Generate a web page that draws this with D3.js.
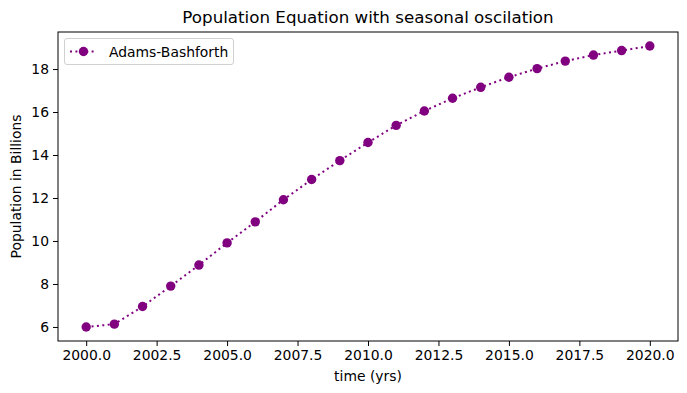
<!DOCTYPE html>
<meta charset="utf-8">
<html>
<head>
    <title>Population Equation</title>
    <style>
        body { margin: 0; background: #fff; }
        svg text { font-family: "DejaVu Sans", sans-serif; fill: #000; }
    </style>
</head>
<body>
    <script src="https://cdnjs.cloudflare.com/ajax/libs/d3/7.8.5/d3.min.js"></script>
    <script>
        // data
        var years = [2000, 2001, 2002, 2003, 2004, 2005, 2006, 2007, 2008, 2009, 2010,
                     2011, 2012, 2013, 2014, 2015, 2016, 2017, 2018, 2019, 2020];
        var population = [6.0, 6.13, 6.95, 7.9, 8.88, 9.91, 10.89, 11.92, 12.86, 13.74, 14.58,
                          15.38, 16.05, 16.64, 17.15, 17.62, 18.02, 18.37, 18.65, 18.86, 19.07];
        var xTicks = [2000, 2002.5, 2005, 2007.5, 2010, 2012.5, 2015, 2017.5, 2020];
        var yTicks = [6, 8, 10, 12, 14, 16, 18];
        var seriesName = "Adams-Bashforth";

        var W = 687, H = 393;
        var plotL = 58, plotR = 678, plotT = 32, plotB = 341;
        var color = "purple";
        var tickFont = 13.9;

        var svg = d3.select("body").append("svg")
            .attr("width", W)
            .attr("height", H);

        // matplotlib style 5% margins
        var xmin = d3.min(years), xmax = d3.max(years);
        var ymin = d3.min(population), ymax = d3.max(population);
        var xm = (xmax - xmin) * 0.05, ym = (ymax - ymin) * 0.05;

        var x = d3.scaleLinear().domain([xmin - xm, xmax + xm]).range([plotL, plotR]);
        var y = d3.scaleLinear().domain([ymin - ym, ymax + ym]).range([plotB, plotT]);

        // axes
        var xAxis = svg.append("g")
            .attr("transform", "translate(0," + plotB + ")")
            .call(d3.axisBottom(x).tickValues(xTicks).tickFormat(d3.format(".1f"))
                .tickSizeInner(5).tickSizeOuter(0).tickPadding(4));
        var yAxis = svg.append("g")
            .attr("transform", "translate(" + plotL + ",0)")
            .call(d3.axisLeft(y).tickValues(yTicks).tickFormat(d3.format("d"))
                .tickSizeInner(5).tickSizeOuter(0).tickPadding(4));
        [xAxis, yAxis].forEach(function (g) {
            g.select(".domain").remove();
            g.selectAll("line").attr("stroke", "#000").attr("stroke-width", 1);
            g.selectAll("text").attr("font-size", tickFont)
                .attr("font-family", "DejaVu Sans, sans-serif").attr("fill", "#000");
        });

        // frame
        svg.append("rect")
            .attr("x", plotL).attr("y", plotT)
            .attr("width", plotR - plotL).attr("height", plotB - plotT)
            .attr("fill", "none").attr("stroke", "#000").attr("stroke-width", 1);

        // line
        var line = d3.line()
            .x(function (d, i) { return x(years[i]); })
            .y(function (d) { return y(d); });
        svg.append("path")
            .datum(population)
            .attr("d", line)
            .attr("fill", "none")
            .attr("stroke", color)
            .attr("stroke-width", 2)
            .attr("stroke-dasharray", "2,3.4");

        svg.selectAll("circle.pt")
            .data(population)
            .enter()
            .append("circle")
            .attr("class", "pt")
            .attr("cx", function (d, i) { return x(years[i]); })
            .attr("cy", function (d) { return y(d); })
            .attr("r", 4.7)
            .attr("fill", color);

        // title and labels
        svg.append("text")
            .attr("x", (plotL + plotR) / 2).attr("y", 23)
            .attr("text-anchor", "middle")
            .attr("font-size", 16.7)
            .text("Population Equation with seasonal oscilation");
        svg.append("text")
            .attr("x", (plotL + plotR) / 2).attr("y", 381)
            .attr("text-anchor", "middle")
            .attr("font-size", tickFont)
            .text("time (yrs)");
        svg.append("text")
            .attr("transform", "translate(21," + ((plotT + plotB) / 2) + ") rotate(-90)")
            .attr("text-anchor", "middle")
            .attr("font-size", tickFont)
            .text("Population in Billions");

        // legend
        var lg = svg.append("g");
        lg.append("rect")
            .attr("x", 64.5).attr("y", 38.5)
            .attr("width", 169).attr("height", 26)
            .attr("rx", 2.5)
            .attr("fill", "#fff").attr("stroke", "#d0d0d0");
        lg.append("line")
            .attr("x1", 70).attr("x2", 97).attr("y1", 51.5).attr("y2", 51.5)
            .attr("stroke", color).attr("stroke-width", 2).attr("stroke-dasharray", "2,3.4");
        lg.append("circle")
            .attr("cx", 83.5).attr("cy", 51.5).attr("r", 4.7).attr("fill", color);
        lg.append("text")
            .attr("x", 109).attr("y", 56.5)
            .attr("font-size", tickFont)
            .text(seriesName);
    </script>
</body>
</html>
